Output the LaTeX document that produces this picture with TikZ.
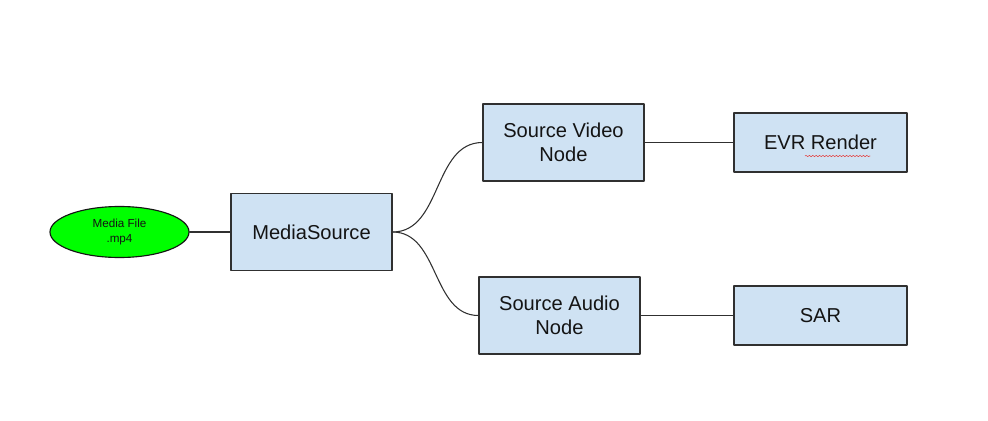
\documentclass[tikz,border=0pt]{standalone}
\usepackage{fontspec}
\setmainfont{Liberation Sans}
\usetikzlibrary{shapes.geometric,decorations.pathmorphing}
\definecolor{boxblue}{RGB}{207,226,243}
\definecolor{boxedge}{RGB}{48,48,48}
\definecolor{filegreen}{RGB}{0,255,0}
\definecolor{spellred}{RGB}{226,70,70}
\definecolor{inkdark}{RGB}{20,20,20}

\begin{document}
\begin{tikzpicture}[x=0.025cm, y=-0.025cm, line cap=round, line join=round,
    stagebox/.style={draw=boxedge, fill=boxblue, line width=.8pt,
      text=inkdark, align=center, inner sep=0pt,
      font=\fontsize{14.3}{16.8}\selectfont,
      minimum width=4.025cm, minimum height=1.925cm},
    sinkbox/.style={stagebox, minimum width=4.325cm, minimum height=1.475cm},
    filenode/.style={ellipse, draw=inkdark, fill=filegreen, line width=.8pt,
      text=inkdark, align=center, inner sep=0pt,
      font=\fontsize{8.3}{10}\selectfont,
      minimum width=3.475cm, minimum height=1.275cm},
    link/.style={draw=boxedge, line width=.75pt}]

  % Page area, 988 x 421 px, on a plain white ground.
  \fill[white] (0,0) rectangle (988,421);
  \useasboundingbox (0,0) rectangle (988,421);

  % Source file and the splitter.
  \node[filenode] (file) at (119.5,232) {Media File\\.mp4};
  \node[stagebox] (msrc) at (311.5,232) {MediaSource};

  % Video branch on top, audio branch below.
  \node[stagebox] (video) at (563.5,142.5) {Source Video\\Node};
  \node[sinkbox] (evr) at (820.5,142.5) {EVR Render};
  \node[stagebox] (audio) at (559.5,315.5) {Source Audio\\Node};
  \node[sinkbox] (sar) at (820.5,315.5) {SAR};

  % Connectors.
  \draw[link] (file.east) -- (msrc.west);
  \draw[link] (msrc.east) to[out=0, in=180] (video.west);
  \draw[link] (msrc.east) to[out=0, in=180] (audio.west);
  \draw[link] (video.east) -- (evr.west);
  \draw[link] (audio.east) -- (sar.west);

  % Spell-check squiggle under the second word.
  \coordinate (squigA) at (805,156);
  \coordinate (squigB) at (870,156);
  \draw[spellred, line width=.4pt, decorate,
    decoration={snake, amplitude=.5pt, segment length=2.4pt}]
    (squigA) -- (squigB);
\end{tikzpicture}
\end{document}
